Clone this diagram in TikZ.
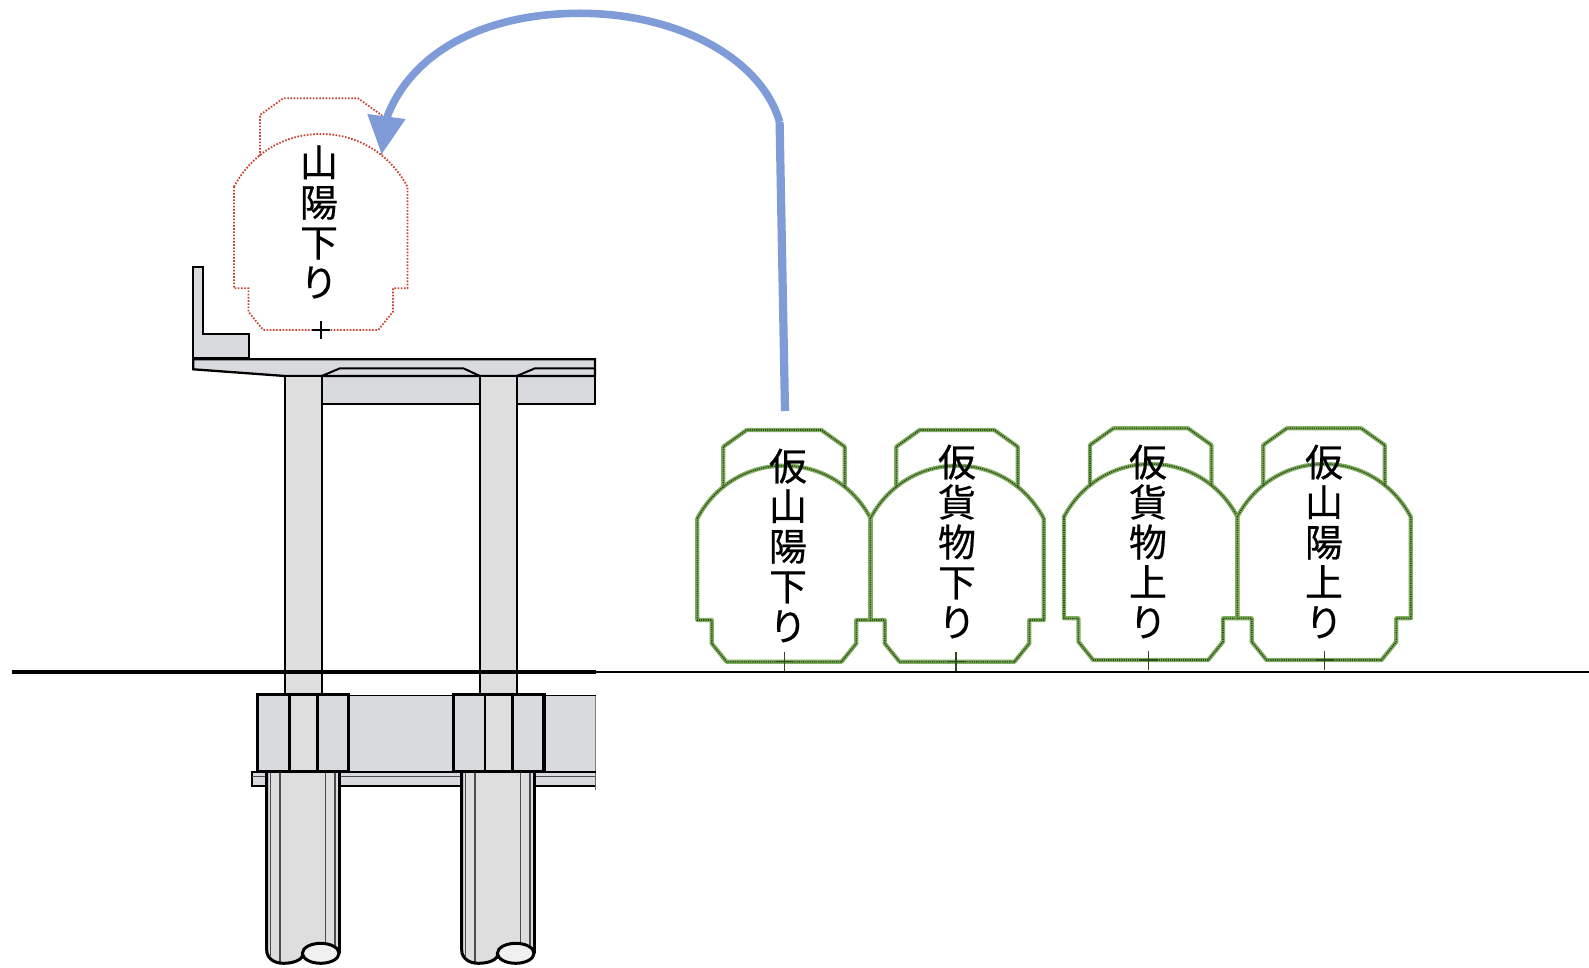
\documentclass[tikz,border=0pt]{standalone}
\usepackage{fontspec}
\newfontfamily\cjk[FakeBold=0.5]{Noto Sans CJK JP}
\definecolor{beamgrey}{HTML}{D9DADE}
\definecolor{colgrey}{HTML}{DEDEDE}
\definecolor{arrowblue}{HTML}{7F9CD8}
\definecolor{trackgreen}{HTML}{7FAE5C}
\definecolor{dotgreen}{HTML}{2F4A22}
\definecolor{trackred}{HTML}{C8402E}
\tikzset{
  concrete/.style={draw=black,line width=2.3pt,fill=beamgrey,line join=miter},
  column/.style={draw=black,line width=2.3pt,fill=colgrey},
  thick frame/.style={draw=black,line width=3.2pt},
  thin pile/.style={draw=black!70,line width=1.1pt},
  label text/.style={font=\cjk\fontsize{38}{40}\selectfont,align=center,inner sep=0pt,text=black},
  plus mark/.style={line width=1.5pt},
}
\newcommand{\gaugeoutline}[3]{%
  \begin{scope}[shift={(#1,#2)}]
    \draw[#3] (-86.7,-143.3) .. controls (-68,-178) and (-35,-196) .. (0,-196)
      .. controls (35,-196) and (68,-178) .. (86.7,-143.3)
      -- (86.7,-41.7) -- (72.3,-41.7) -- (72.3,-18.3) -- (57.5,0) -- (-57.5,0)
      -- (-72.3,-18.3) -- (-72.3,-41.7) -- (-86.7,-41.7) -- cycle;
    \draw[#3] (-60.7,-174) -- (-60.7,-215) -- (-37.3,-231.7) -- (37.3,-231.7)
      -- (60.7,-215) -- (60.7,-174);
  \end{scope}}
\newcommand{\greengauge}[2]{%
  \gaugeoutline{#1}{#2}{draw=trackgreen,line width=4.2pt,line join=round}
  \gaugeoutline{#1}{#2}{draw=dotgreen,line width=1.6pt,dash pattern=on 1.2pt off 1pt}}
\newcommand{\pilebody}[2]{%
  \begin{scope}[shift={(#1,0)}]
    \fill[colgrey] (0,772) -- (0,950) .. controls (0,958) and (7,963.3) .. (16.6,963.3)
      .. controls (27,963.3) and (36,960) .. (37,953) -- (72.6,953) -- (72.6,772) -- cycle;
    \draw[thin pile] (4,772) -- (4,956);
    \draw[thin pile] (13.3,772) -- (13.3,962);
    \draw[thin pile] (59,772) -- (59,944);
    \draw[thin pile] (68.3,772) -- (68.3,948);
    \draw[black,line width=3pt] (0,772) -- (0,950) .. controls (0,958) and (7,963.3) .. (16.6,963.3)
      .. controls (27,963.3) and (36,960) .. (37,953);
    \draw[black,line width=3pt] (72.6,772) -- (72.6,953);
    \draw[black,line width=3pt,fill=black!6] (54,953.3) ellipse [x radius=18.3,y radius=10];
  \end{scope}}
\begin{document}
\begin{tikzpicture}[x=1pt,y=-1pt]
\useasboundingbox (0,0) rectangle (1589,968);
% piles and lower slab
\fill[beamgrey] (251.7,772.3) rectangle (595.7,786);
\draw[black,line width=2.3pt] (595.7,786) -- (251.7,786) -- (251.7,772.3) -- (595.7,772.3);
\draw[thin pile] (251.7,776.7) -- (595.7,776.7);
\draw[black!60,line width=1pt] (595.7,772.3) -- (595.7,790);
\pilebody{266.7}{}
\pilebody{461.7}{}
% footing
\fill[beamgrey] (257.3,695.7) rectangle (595.7,771.7);
\draw[black!50,line width=0.8pt] (595.7,695.7) -- (595.7,771.7);
\draw[black,line width=1.4pt] (257.3,695.2) -- (595.7,695.2);
\draw[thick frame] (257.3,694.3) rectangle (348.3,771.7);
\draw[thick frame] (453.3,694.3) rectangle (544,771.7);
\draw[black,line width=1.6pt] (257.3,771.7) -- (595.7,771.7);
\draw[column,line width=2.8pt] (289.3,694.3) rectangle (317.3,771.7);
\draw[column,line width=2.8pt] (485,694.3) rectangle (512.7,771.7);
% deck and beam
\draw[concrete] (321.7,376) rectangle (595,404);
\draw[concrete] (193.3,266.7) -- (203.3,266.7) -- (203.3,334.3) -- (248.7,334.3) -- (248.7,358) -- (193.3,358) -- cycle;
\draw[concrete] (595,359.3) -- (193.3,359.3) -- (193.3,369.3) -- (285,376) -- (595,376) -- cycle;
\draw[draw=black,line width=2pt] (321.7,376) -- (340,368.3) -- (463.3,368.3) -- (480,376);
\draw[draw=black,line width=2pt] (516.7,376) -- (535,368.3) -- (595,368.3);
% columns
\draw[column] (285,376) rectangle (321.7,694.3);
\draw[column] (480,376) rectangle (516.7,694.3);
% ground line
\draw[black,line width=3.2pt] (12,672) -- (596,672);
\draw[black,line width=1.8pt] (596,672) -- (1589,672);
% red final position
\gaugeoutline{320.7}{330}{draw=trackred,line width=1.8pt,dash pattern=on 1.6pt off 1.6pt}
\node[label text] (sanyo) at (319,222) {山\\陽\\下\\り};
\draw[plus mark,line width=1.9pt] (312,330) -- (330,330) (321,321) -- (321,339);
% green temporary positions
\greengauge{784}{661.7}
\greengauge{957}{661.7}
\greengauge{1150.7}{660}
\greengauge{1324}{660}
\node[label text] (kari1) at (788,545.5) {仮\\山\\陽\\下\\り};
\node[label text] (kari2) at (957,541.5) {仮\\貨\\物\\下\\り};
\node[label text] (kari3) at (1148,541.5) {仮\\貨\\物\\上\\り};
\node[label text] (kari4) at (1324,541.5) {仮\\山\\陽\\上\\り};
\draw[plus mark,draw=dotgreen] (776,661.7) -- (793,661.7) (784.3,652) -- (784.3,671);
\draw[plus mark,draw=dotgreen] (948,661.7) -- (966,661.7) (956,652) -- (956,671);
\draw[plus mark,draw=dotgreen] (1140,660) -- (1158,660) (1148.7,651) -- (1148.7,670);
\draw[plus mark,draw=dotgreen] (1316,660) -- (1334,660) (1324.7,651) -- (1324.7,670);
% move arrow
\coordinate (arrowfoot) at (785,411);
\coordinate (arrowbend) at (779.6,122);
\coordinate (arrowtop) at (580,13.3);
\coordinate (arrowbase) at (386.7,118);
\coordinate (arrowtip) at (381.7,154);
\coordinate (arrowcorner1) at (367.3,114);
\coordinate (arrowcorner2) at (405.7,119);
\draw[arrowblue,line width=8.2pt] (arrowfoot) -- (arrowbend);
\draw[arrowblue,line width=7.6pt] (arrowbend) .. controls (762,60) and (680,13.3) .. (arrowtop)
  .. controls (480,13.3) and (410,55) .. (arrowbase);
\fill[arrowblue] (arrowtip) -- (arrowcorner1) -- (arrowcorner2) -- cycle;
\end{tikzpicture}
\end{document}
